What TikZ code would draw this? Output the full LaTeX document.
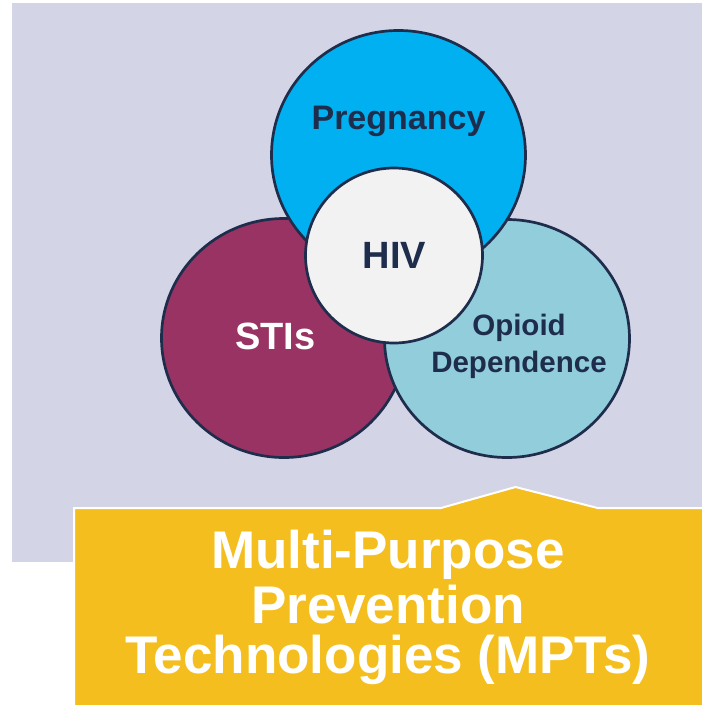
\documentclass[tikz,border=0pt]{standalone}
\usepackage{fontspec}
\setmainfont{Liberation Sans}
\usetikzlibrary{shapes.geometric}

\definecolor{lavbg}{RGB}{211,212,230}
\definecolor{navy}{RGB}{30,45,75}
\definecolor{pregblue}{RGB}{0,176,240}
\definecolor{stimaroon}{RGB}{153,51,99}
\definecolor{opiblue}{RGB}{146,205,220}
\definecolor{hivgray}{RGB}{242,242,242}
\definecolor{mptgold}{RGB}{244,191,30}

\newcommand{\txtsize}[1]{\fontsize{#1}{#1}\selectfont\bfseries}

\tikzset{
  disc/.style={ellipse, draw=navy, line width=2.7pt, inner sep=0pt},
  lbl/.style={anchor=base, text=navy, inner sep=0pt}
}

\begin{document}
\begin{tikzpicture}[x=1pt,y=-1pt]
\useasboundingbox (0,0) rectangle (702,705);
\fill[white] (0,0) rectangle (702,705);

\fill[lavbg] (12,3) rectangle (702,562);

\node[disc, fill=stimaroon, minimum width=245, minimum height=239] (sti) at (284,338) {};
\node[disc, fill=opiblue, minimum width=245, minimum height=238] (opi) at (507,338.5) {};
\node[disc, fill=pregblue, minimum width=254, minimum height=249] (preg) at (398.5,155) {};
\node[disc, fill=hivgray, minimum width=177, minimum height=175] (hiv) at (394,255.5) {};

\node[lbl, font=\txtsize{34}] (pregtxt) at (398.5,129.3) {Pregnancy};
\node[lbl, font=\txtsize{38}] (hivtxt) at (394.5,268) {HIV};
\node[lbl, font=\txtsize{38}, text=white] (stitxt) at (275.5,349) {STIs};
\node[lbl, font=\txtsize{29.5}] (opitxt) at (519,335) {Opioid};
\node[lbl, font=\txtsize{29.5}] (deptxt) at (519,372) {Dependence};

\draw[white, line width=2pt, fill=mptgold] (74,710) -- (74,508) -- (441,508)
  -- (515.5,487) -- (597.6,508) -- (708,508) -- (708,710) -- cycle;

\node[lbl, font=\txtsize{53}, text=white] (mpt1) at (388,568.5) {Multi-Purpose};
\node[lbl, font=\txtsize{53}, text=white] (mpt2) at (388,623) {Prevention};
\node[lbl, font=\txtsize{53}, text=white] (mpt3) at (388,673.7) {Technologies (MPTs)};
\end{tikzpicture}
\end{document}
